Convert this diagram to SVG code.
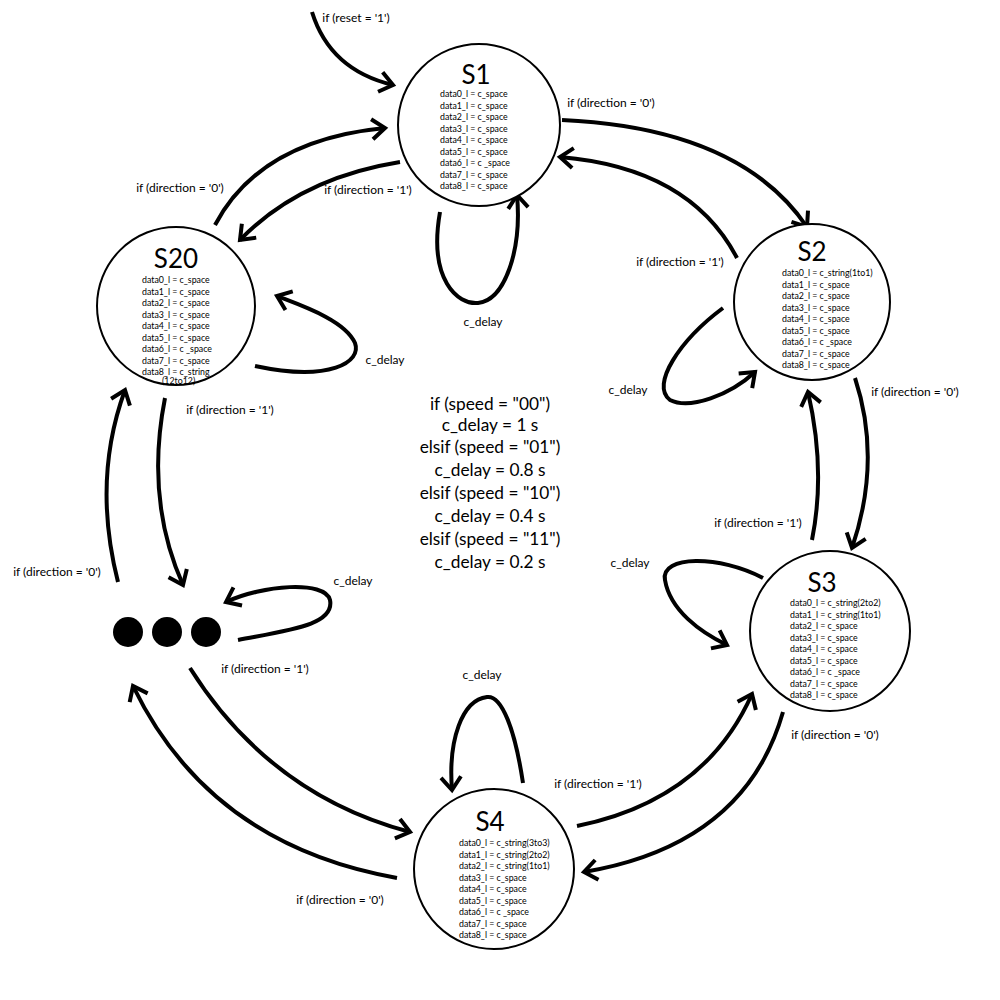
<svg xmlns="http://www.w3.org/2000/svg" width="1000" height="1000" viewBox="0 0 1000 1000">
<style>
.node{fill:#fff;stroke:#000;stroke-width:2}
.title{font-family:Lato,"Liberation Sans",sans-serif;font-size:26px;text-anchor:middle;fill:#000}
.d{font-family:Lato,"Liberation Sans",sans-serif;font-size:8.8px;fill:#000}
.lbl{font-family:Lato,"Liberation Sans",sans-serif;font-size:12px;text-anchor:middle;fill:#000}
.ctr{font-family:Lato,"Liberation Sans",sans-serif;font-size:17.3px;text-anchor:middle;fill:#000}
.c{fill:none;stroke:#000;stroke-width:4;marker-end:url(#ah)}
</style>
<defs>
<marker id="ah" markerUnits="userSpaceOnUse" markerWidth="40" markerHeight="40" viewBox="-20 -20 40 40" refX="0" refY="0" orient="auto" overflow="visible">
<path d="M-13,-10 L0,0 L-13,10" fill="none" stroke="#000" stroke-width="4"/>
</marker>
</defs>
<rect width="1000" height="1000" fill="#fff"/>
<g id="connectors">
<path class="c" d="M312,12 Q330,70 393,85"/>
<path class="c" d="M562,120 Q740,128 807,227"/>
<path class="c" d="M737,258 Q690,168 560,157"/>
<path class="c" d="M440,212 C428,280 458,305 478,303 C505,300 522,250 517,195"/>
<path class="c" d="M215,225 Q260,140 385,128"/>
<path class="c" d="M400,162 Q300,178 240,240"/>
<path class="c" d="M255,366 C330,382 362,362 355,343 C345,320 300,305 277,296"/>
<path class="c" d="M165,398 Q145,500 183,585"/>
<path class="c" d="M118,582 Q92,480 125,390"/>
<path class="c" d="M238,640 C290,630 335,625 330,600 C325,580 262,585 226,602"/>
<path class="c" d="M190,668 Q270,795 410,832"/>
<path class="c" d="M397,878 Q210,845 133,686"/>
<path class="c" d="M523,783 C515,730 502,695 487,697 C462,700 448,740 452,790"/>
<path class="c" d="M577,826 Q705,800 752,694"/>
<path class="c" d="M783,712 Q745,845 584,872"/>
<path class="c" d="M855,378 Q882,460 852,548"/>
<path class="c" d="M812,540 Q826,470 808,392"/>
<path class="c" d="M723,308 C680,340 650,385 670,400 C690,410 730,395 755,372"/>
<path class="c" d="M763,578 C720,555 660,555 665,580 C670,610 700,632 727,645"/>
</g>
<g id="labels">
<text class="lbl" x="356" y="22">if (reset = '1')</text>
<text class="lbl" x="611" y="107">if (direction = '0')</text>
<text class="lbl" x="680" y="266">if (direction = '1')</text>
<text class="lbl" x="483" y="326">c_delay</text>
<text class="lbl" x="180" y="192">if (direction = '0')</text>
<text class="lbl" x="368" y="194">if (direction = '1')</text>
<text class="lbl" x="385" y="364">c_delay</text>
<text class="lbl" x="230" y="414">if (direction = '1')</text>
<text class="lbl" x="57" y="576">if (direction = '0')</text>
<text class="lbl" x="353" y="585">c_delay</text>
<text class="lbl" x="265" y="673">if (direction = '1')</text>
<text class="lbl" x="340" y="904">if (direction = '0')</text>
<text class="lbl" x="482" y="679">c_delay</text>
<text class="lbl" x="598" y="788">if (direction = '1')</text>
<text class="lbl" x="835" y="739">if (direction = '0')</text>
<text class="lbl" x="915" y="396">if (direction = '0')</text>
<text class="lbl" x="758" y="527">if (direction = '1')</text>
<text class="lbl" x="628" y="394">c_delay</text>
<text class="lbl" x="630" y="567">c_delay</text>
</g>
<g id="center-note">
<text class="ctr" x="490" y="410">if (speed = "00")</text>
<text class="ctr" x="490" y="431">c_delay = 1 s</text>
<text class="ctr" x="490" y="453">elsif (speed = "01")</text>
<text class="ctr" x="490" y="476">c_delay = 0.8 s</text>
<text class="ctr" x="490" y="499">elsif (speed = "10")</text>
<text class="ctr" x="490" y="522">c_delay = 0.4 s</text>
<text class="ctr" x="490" y="545">elsif (speed = "11")</text>
<text class="ctr" x="490" y="568">c_delay = 0.2 s</text>
</g>
<g id="S1">
<circle class="node" cx="479" cy="125" r="81"/>
<text class="title" x="476" y="84">S1</text>
<text class="d" x="440" y="97">data0_l = c_space</text>
<text class="d" x="440" y="108.5">data1_l = c_space</text>
<text class="d" x="440" y="120">data2_l = c_space</text>
<text class="d" x="440" y="131.5">data3_l = c_space</text>
<text class="d" x="440" y="143">data4_l = c_space</text>
<text class="d" x="440" y="154.5">data5_l = c_space</text>
<text class="d" x="440" y="166">data6_l = c _space</text>
<text class="d" x="440" y="177.5">data7_l = c_space</text>
<text class="d" x="440" y="189">data8_l = c_space</text>
</g>
<g id="S2">
<circle class="node" cx="812" cy="302" r="78"/>
<text class="title" x="812" y="261">S2</text>
<text class="d" x="782" y="276">data0_l = c_string(1to1)</text>
<text class="d" x="782" y="287.5">data1_l = c_space</text>
<text class="d" x="782" y="299">data2_l = c_space</text>
<text class="d" x="782" y="310.5">data3_l = c_space</text>
<text class="d" x="782" y="322">data4_l = c_space</text>
<text class="d" x="782" y="333.5">data5_l = c_space</text>
<text class="d" x="782" y="345">data6_l = c _space</text>
<text class="d" x="782" y="356.5">data7_l = c_space</text>
<text class="d" x="782" y="368">data8_l = c_space</text>
</g>
<g id="S20">
<circle class="node" cx="176" cy="306" r="79"/>
<text class="title" x="176" y="268">S20</text>
<text class="d" x="142" y="283">data0_l = c_space</text>
<text class="d" x="142" y="294.5">data1_l = c_space</text>
<text class="d" x="142" y="306">data2_l = c_space</text>
<text class="d" x="142" y="317.5">data3_l = c_space</text>
<text class="d" x="142" y="329">data4_l = c_space</text>
<text class="d" x="142" y="340.5">data5_l = c_space</text>
<text class="d" x="142" y="352">data6_l = c _space</text>
<text class="d" x="142" y="363.5">data7_l = c_space</text>
<text class="d" x="142" y="375">data8_l = c_string</text>
<text class="d" x="162" y="384">(12to12)</text>
</g>
<g id="S3">
<circle class="node" cx="830" cy="631" r="80"/>
<text class="title" x="822" y="592">S3</text>
<text class="d" x="790" y="606">data0_l = c_string(2to2)</text>
<text class="d" x="790" y="617.5">data1_l = c_string(1to1)</text>
<text class="d" x="790" y="629">data2_l = c_space</text>
<text class="d" x="790" y="640.5">data3_l = c_space</text>
<text class="d" x="790" y="652">data4_l = c_space</text>
<text class="d" x="790" y="663.5">data5_l = c_space</text>
<text class="d" x="790" y="675">data6_l = c _space</text>
<text class="d" x="790" y="686.5">data7_l = c_space</text>
<text class="d" x="790" y="698">data8_l = c_space</text>
</g>
<g id="S4">
<circle class="node" cx="494" cy="869" r="80"/>
<text class="title" x="490" y="831">S4</text>
<text class="d" x="459" y="846">data0_l = c_string(3to3)</text>
<text class="d" x="459" y="857.5">data1_l = c_string(2to2)</text>
<text class="d" x="459" y="869">data2_l = c_string(1to1)</text>
<text class="d" x="459" y="880.5">data3_l = c_space</text>
<text class="d" x="459" y="892">data4_l = c_space</text>
<text class="d" x="459" y="903.5">data5_l = c_space</text>
<text class="d" x="459" y="915">data6_l = c _space</text>
<text class="d" x="459" y="926.5">data7_l = c_space</text>
<text class="d" x="459" y="938">data8_l = c_space</text>
</g>
<g id="dots">
<circle cx="128" cy="632" r="15" fill="#000"/>
<circle cx="167" cy="632" r="15" fill="#000"/>
<circle cx="206" cy="632" r="15" fill="#000"/>
</g>
</svg>
